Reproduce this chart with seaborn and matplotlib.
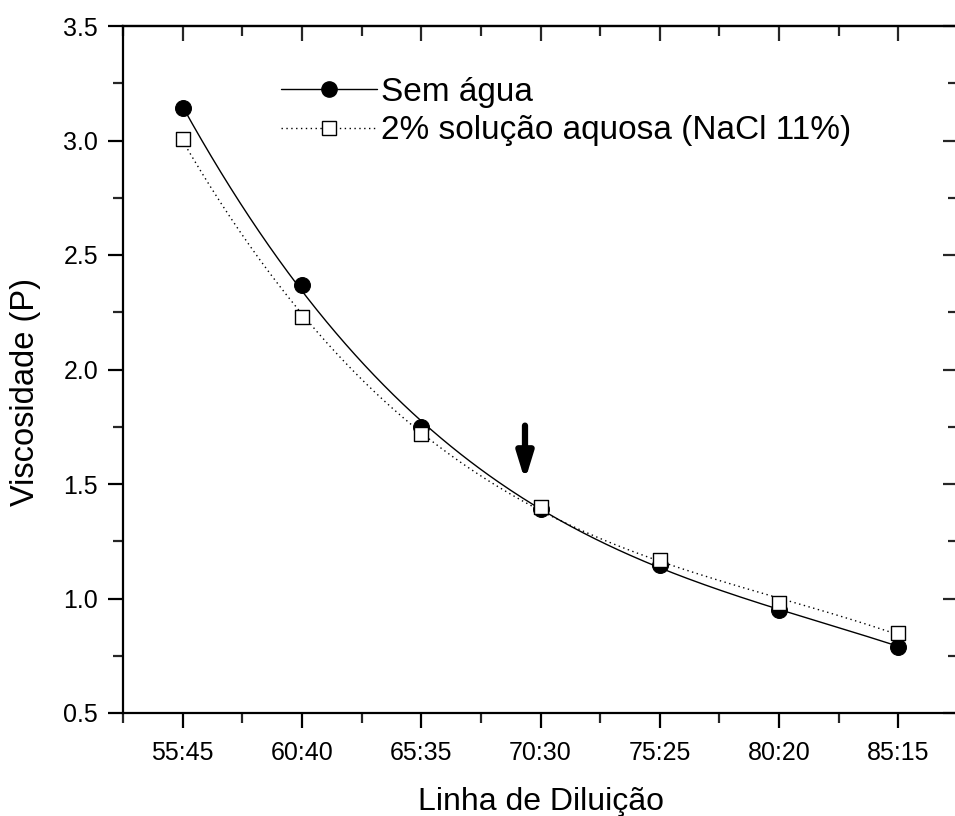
import numpy as np
import pandas as pd
import matplotlib
matplotlib.use("Agg")
import matplotlib.pyplot as plt
from matplotlib.lines import Line2D
import seaborn as sns

# ---- data ----
categories = ["55:45", "60:40", "65:35", "70:30", "75:25", "80:20", "85:15"]
sem_agua = [3.14, 2.37, 1.75, 1.39, 1.145, 0.95, 0.79]
solucao = [3.005, 2.23, 1.72, 1.40, 1.17, 0.98, 0.85]
label_sem = "Sem água"
label_sol = "2% solução aquosa (NaCl 11%)"
y_ticks = [0.5, 1.0, 1.5, 2.0, 2.5, 3.0, 3.5]

sns.set_theme(style="white")
plt.rcParams["font.family"] = ["Liberation Sans", "DejaVu Sans"]

fig = plt.figure(figsize=(9.55, 8.16), dpi=100)
ax = fig.add_axes([123 / 955, (816 - 713) / 816, (958 - 123) / 955, (713 - 26) / 816])

x = np.arange(len(categories))
df = pd.DataFrame({"x": np.concatenate([x, x]),
                   "y": sem_agua + solucao,
                   "serie": [label_sem] * len(x) + [label_sol] * len(x)})

# smooth fitted curves
xs = np.linspace(0, len(x) - 1, 300)
fit1 = np.polyval(np.polyfit(x, sem_agua, 3), xs)
fit2 = np.polyval(np.polyfit(x, solucao, 3), xs)
sns.lineplot(x=xs, y=fit2, ax=ax, color="black", lw=1.0, linestyle=(0, (1, 2.5)), legend=False)
sns.lineplot(x=xs, y=fit1, ax=ax, color="black", lw=1.0, legend=False)

d1 = df[df.serie == label_sem]
d2 = df[df.serie == label_sol]
sns.scatterplot(data=d1, x="x", y="y", ax=ax, marker="o", s=130, color="black",
                edgecolor="black", linewidth=0.8, legend=False, zorder=3)
sns.scatterplot(data=d2, x="x", y="y", ax=ax, marker="s", s=110, facecolor="white",
                edgecolor="black", linewidth=1.0, legend=False, zorder=4)

ax.set_xlim(-0.5, 6.5)
ax.set_ylim(0.5, 3.5)
ax.set_xticks(x)
ax.set_xticklabels(categories)
ax.set_xticks(np.arange(-0.5, 6.6, 1.0), minor=True)
ax.set_yticks(y_ticks)
ax.set_yticklabels([f"{v:.1f}" for v in y_ticks])
ax.set_yticks(np.arange(0.75, 3.5, 0.5), minor=True)

for s in ax.spines.values():
    s.set_color("black")
    s.set_linewidth(1.6)
    s.set_visible(True)

ax.tick_params(axis="both", which="major", direction="out", length=11, width=1.6,
               labelsize=18, colors="black", pad=9, bottom=True, left=True)
ax.tick_params(axis="both", which="minor", direction="out", length=7, width=1.6,
               bottom=True, left=True)
ax.tick_params(axis="y", which="major", pad=7)

# inward ticks on top and right
secx = ax.secondary_xaxis("top")
secx.set_xticks(x)
secx.set_xticks(np.arange(-0.5, 6.6, 1.0), minor=True)
secx.tick_params(which="major", direction="in", length=11, width=1.6, labeltop=False, top=True)
secx.tick_params(which="minor", direction="in", length=7, width=1.6, top=True)
secx.spines["top"].set_linewidth(1.6)
secy = ax.secondary_yaxis("right")
secy.set_yticks(y_ticks)
secy.set_yticks(np.arange(0.75, 3.5, 0.5), minor=True)
secy.tick_params(which="major", direction="in", length=11, width=1.6, labelright=False, right=True)
secy.tick_params(which="minor", direction="in", length=7, width=1.6, right=True)
secy.spines["right"].set_linewidth(1.6)

ax.set_xlabel("Linha de Diluição", fontsize=23, color="black", labelpad=16)
ax.set_ylabel("Viscosidade (P)", fontsize=23.5, color="black", labelpad=12)
ax.yaxis.set_label_coords(-0.098, 0.467)

# arrow
ax.annotate("", xy=(2.87, 1.515), xytext=(2.87, 1.755),
            arrowprops=dict(arrowstyle="-|>,head_length=1.3,head_width=0.4",
                            lw=4.5, color="black", shrinkA=0, shrinkB=0))

handles = [Line2D([], [], color="black", lw=1.0, marker="o", markersize=11,
                  markerfacecolor="black"),
           Line2D([], [], color="black", lw=1.0, linestyle=(0, (1, 2.5)), marker="s",
                  markersize=10, markerfacecolor="white", markeredgecolor="black")]
leg = ax.legend(handles, [label_sem, label_sol], loc="upper left",
                bbox_to_anchor=(0.173, 0.945), frameon=False, fontsize=24,
                handlelength=2.9, handletextpad=0.12, labelspacing=0.22,
                borderaxespad=0, numpoints=1)
for t in leg.get_texts():
    t.set_color("black")

fig.savefig("out.png", dpi=100, facecolor="white")
